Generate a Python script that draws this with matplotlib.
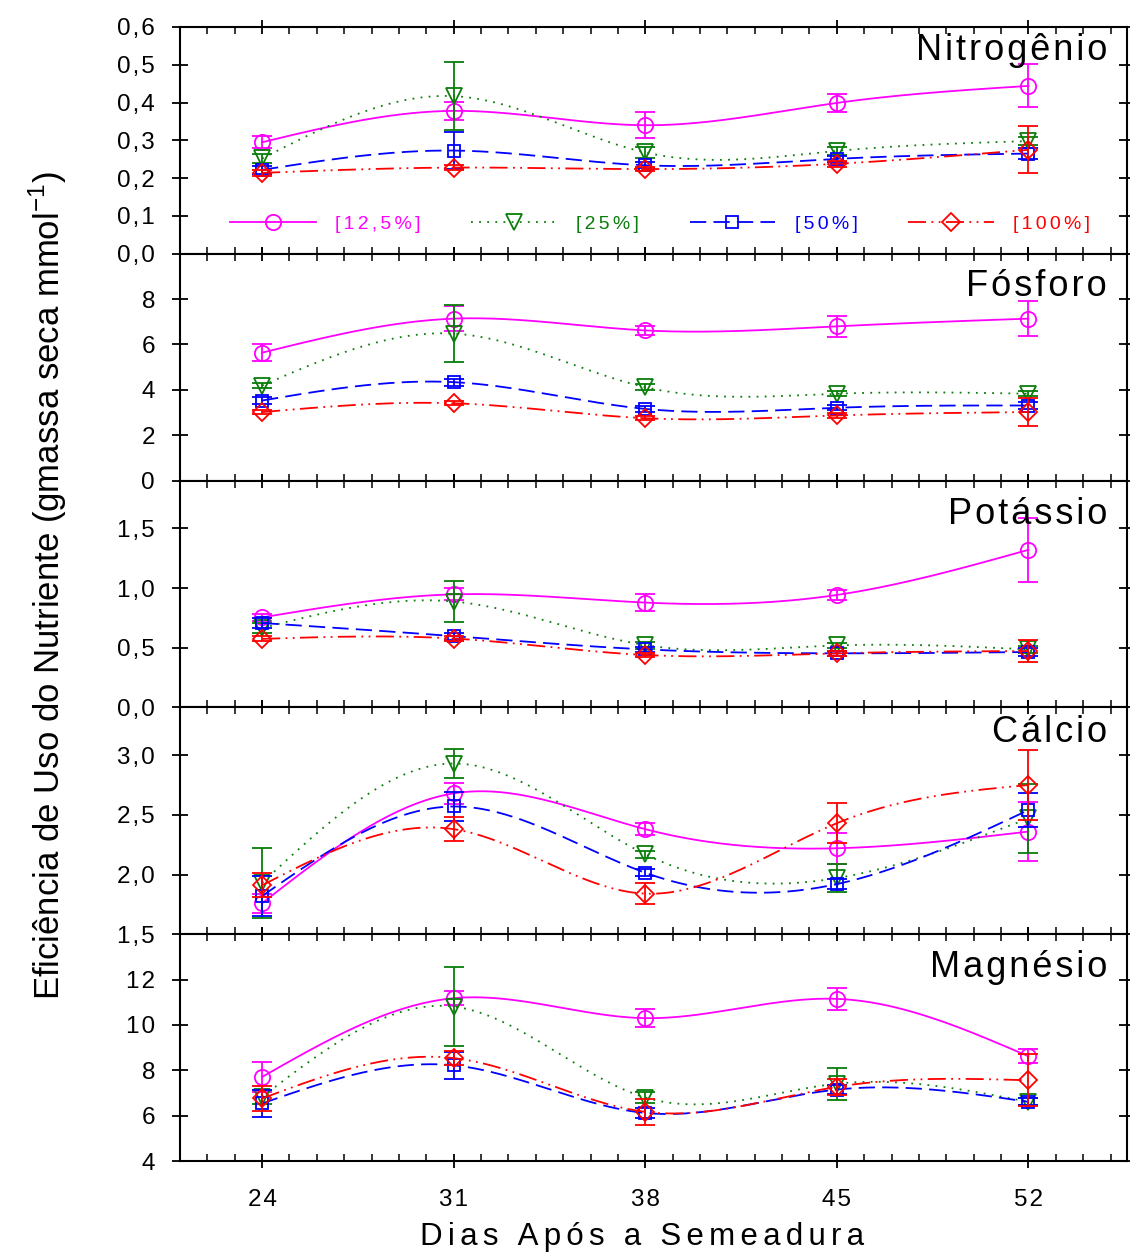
import numpy as np
import matplotlib
matplotlib.use("Agg")
import matplotlib.pyplot as plt
from matplotlib.lines import Line2D
from matplotlib.ticker import FixedLocator, MultipleLocator

plt.rcParams["font.family"] = ["Liberation Sans", "DejaVu Sans"]
plt.rcParams["mathtext.fontset"] = "custom"
plt.rcParams["mathtext.rm"] = "Liberation Sans"

# dias apos a semeadura
dias = [24, 31, 38, 45, 52]

# tratamentos (linhas: 12,5% / 25% / 50% / 100%)
tratamentos = ["[12,5%]", "[25%]", "[50%]", "[100%]"]

nitrogenio_media = [
    [0.295, 0.378, 0.340, 0.399, 0.444],
    [0.252, 0.417, 0.268, 0.272, 0.298],
    [0.222, 0.273, 0.234, 0.251, 0.265],
    [0.214, 0.228, 0.224, 0.238, 0.275],
]
nitrogenio_erro = [
    [0.016, 0.024, 0.035, 0.024, 0.057],
    [0.012, 0.090, 0.015, 0.010, 0.010],
    [0.010, 0.050, 0.008, 0.008, 0.015],
    [0.008, 0.006, 0.006, 0.008, 0.062],
]

fosforo_media = [
    [5.64, 7.14, 6.62, 6.80, 7.14],
    [4.19, 6.48, 4.12, 3.83, 3.83],
    [3.53, 4.34, 3.16, 3.21, 3.31],
    [3.02, 3.41, 2.75, 2.87, 3.02],
]
fosforo_erro = [
    [0.38, 0.55, 0.20, 0.47, 0.78],
    [0.12, 1.25, 0.12, 0.10, 0.12],
    [0.15, 0.15, 0.12, 0.12, 0.15],
    [0.10, 0.08, 0.10, 0.10, 0.62],
]

potassio_media = [
    [0.754, 0.947, 0.878, 0.942, 1.320],
    [0.665, 0.887, 0.522, 0.519, 0.486],
    [0.707, 0.597, 0.486, 0.453, 0.464],
    [0.574, 0.577, 0.439, 0.453, 0.472],
]
potassio_erro = [
    [0.03, 0.05, 0.07, 0.04, 0.27],
    [0.04, 0.17, 0.03, 0.02, 0.03],
    [0.04, 0.03, 0.02, 0.02, 0.03],
    [0.02, 0.02, 0.02, 0.02, 0.09],
]

calcio_media = [
    [1.76, 2.68, 2.38, 2.22, 2.36],
    [1.93, 2.93, 2.17, 1.97, 2.47],
    [1.82, 2.57, 2.015, 1.92, 2.54],
    [1.91, 2.38, 1.84, 2.43, 2.75],
]
calcio_erro = [
    [0.08, 0.09, 0.05, 0.13, 0.25],
    [0.29, 0.12, 0.03, 0.12, 0.29],
    [0.17, 0.12, 0.03, 0.04, 0.14],
    [0.10, 0.10, 0.09, 0.17, 0.29],
]

magnesio_media = [
    [7.71, 11.18, 10.30, 11.15, 8.62],
    [6.83, 10.81, 6.80, 7.41, 6.61],
    [6.54, 8.22, 6.12, 7.15, 6.61],
    [6.76, 8.54, 6.17, 7.27, 7.56],
]
magnesio_erro = [
    [0.65, 0.30, 0.40, 0.47, 0.30],
    [0.30, 1.75, 0.25, 0.70, 0.15],
    [0.60, 0.60, 0.20, 0.20, 0.15],
    [0.55, 0.30, 0.58, 0.35, 1.15],
]

nomes = ["Nitrogênio", "Fósforo", "Potássio", "Cálcio", "Magnésio"]
medias = [nitrogenio_media, fosforo_media, potassio_media, calcio_media, magnesio_media]
erros = [nitrogenio_erro, fosforo_erro, potassio_erro, calcio_erro, magnesio_erro]

# eixos: limites, ticks, casas decimais
limites = [(0, 0.6), (0, 10), (0, 1.9), (1.5, 3.4), (4, 14)]
ticks_y = [
    [0, 0.1, 0.2, 0.3, 0.4, 0.5, 0.6],
    [0, 2, 4, 6, 8],
    [0, 0.5, 1.0, 1.5],
    [1.5, 2.0, 2.5, 3.0],
    [4, 6, 8, 10, 12],
]
decimais = [1, 0, 1, 1, 0]
titulo_y = [0.855, 0.815, 0.81, 0.848, 0.812]

cores = ["#ff00ff", "#0a7d0a", "#0000ff", "#ff0000"]
marcadores = ["o", "v", "s", "D"]
tam_marc = [11, 11, 8.5, 9]
estilos = ["-", (0, (1, 3.5)), (0, (9, 4)), (0, (10, 3, 1, 3, 1, 3))]

HS = "\u200a"
HS2 = "\u200a\u200a"


def espacado(s, sep=HS):
    return sep.join(s)


def spline_natural(xs, ys, num=300):
    xs = np.asarray(xs, float)
    ys = np.asarray(ys, float)
    n = len(xs)
    h = np.diff(xs)
    A = np.zeros((n, n))
    rhs = np.zeros(n)
    A[0, 0] = A[-1, -1] = 1.0
    for i in range(1, n - 1):
        A[i, i - 1] = h[i - 1]
        A[i, i] = 2 * (h[i - 1] + h[i])
        A[i, i + 1] = h[i]
        rhs[i] = 6 * ((ys[i + 1] - ys[i]) / h[i] - (ys[i] - ys[i - 1]) / h[i - 1])
    M = np.linalg.solve(A, rhs)
    xf = np.linspace(xs[0], xs[-1], num)
    idx = np.clip(np.searchsorted(xs, xf) - 1, 0, n - 2)
    x0, x1 = xs[idx], xs[idx + 1]
    hh = x1 - x0
    a = (x1 - xf) / hh
    b = (xf - x0) / hh
    yf = a * ys[idx] + b * ys[idx + 1] + ((a**3 - a) * M[idx] + (b**3 - b) * M[idx + 1]) * hh**2 / 6
    return xf, yf


fig, axes = plt.subplots(5, 1, sharex=True, figsize=(11.3, 12.59), dpi=100)
fig.subplots_adjust(left=0.1593, right=0.9973, top=0.9786, bottom=0.0778, hspace=0)

for k, ax in enumerate(axes):
    for j in range(4):
        m = medias[k][j]
        e = erros[k][j]
        xf, yf = spline_natural(dias, m)
        ax.plot(xf, yf, color=cores[j], ls=estilos[j], lw=1.3)
        ax.errorbar(dias, m, yerr=e, fmt="none", ecolor=cores[j], elinewidth=1.3,
                    capsize=7, capthick=1.3)
        ax.plot(dias, m, ls="none", marker=marcadores[j], ms=tam_marc[j],
                mfc="none", mec=cores[j], mew=1.3)

    ax.set_ylim(*limites[k])
    ax.yaxis.set_major_locator(FixedLocator(ticks_y[k]))
    ax.set_yticklabels([espacado(f"{v:.{decimais[k]}f}".replace(".", ",")) for v in ticks_y[k]],
                       fontsize=17.5)
    ax.text(0.979, titulo_y[k], espacado(nomes[k]), transform=ax.transAxes,
            ha="right", va="baseline", fontsize=26)

    for s in ax.spines.values():
        s.set_linewidth(1.5)
    ax.tick_params(axis="y", which="major", direction="inout", length=12, width=1.3,
                   right=True, pad=12)
    ax.tick_params(axis="x", which="major", direction="inout", length=10, width=1.3,
                   top=True, pad=15)
    ax.tick_params(axis="x", which="minor", direction="in", length=5, width=1.1, top=True)

ax = axes[-1]
ax.set_xlim(21, 55.6)
ax.xaxis.set_major_locator(FixedLocator(dias))
ax.xaxis.set_minor_locator(MultipleLocator(1))
ax.set_xticklabels([espacado(str(d)) for d in dias], fontsize=17.5)
ax.set_xlabel(espacado("Dias Após a Semeadura", HS2), fontsize=22.5)
ax.xaxis.set_label_coords(0.488, -0.27)

fig.text(0.042, 0.535,
         "Eficiência de Uso do Nutriente (gmassa seca mmol$^{-1}$)",
         rotation=90, ha="center", va="center", fontsize=25)

# legenda no painel do nitrogenio
proxies = [
    Line2D([], [], color=cores[j], ls=estilos[j], lw=1.3, marker=marcadores[j],
           ms=tam_marc[j], mfc="none", mec=cores[j], mew=1.3)
    for j in range(4)
]
leg = axes[0].legend(proxies, [espacado(t, HS2) for t in tratamentos], ncol=4,
                     loc="center", bbox_to_anchor=(0.507, 0.132), frameon=False,
                     fontsize=14, handlelength=4.4, handletextpad=1.0, columnspacing=2.6)
for t, c in zip(leg.get_texts(), cores):
    t.set_color(c)

plt.savefig("out.png", dpi=100)
